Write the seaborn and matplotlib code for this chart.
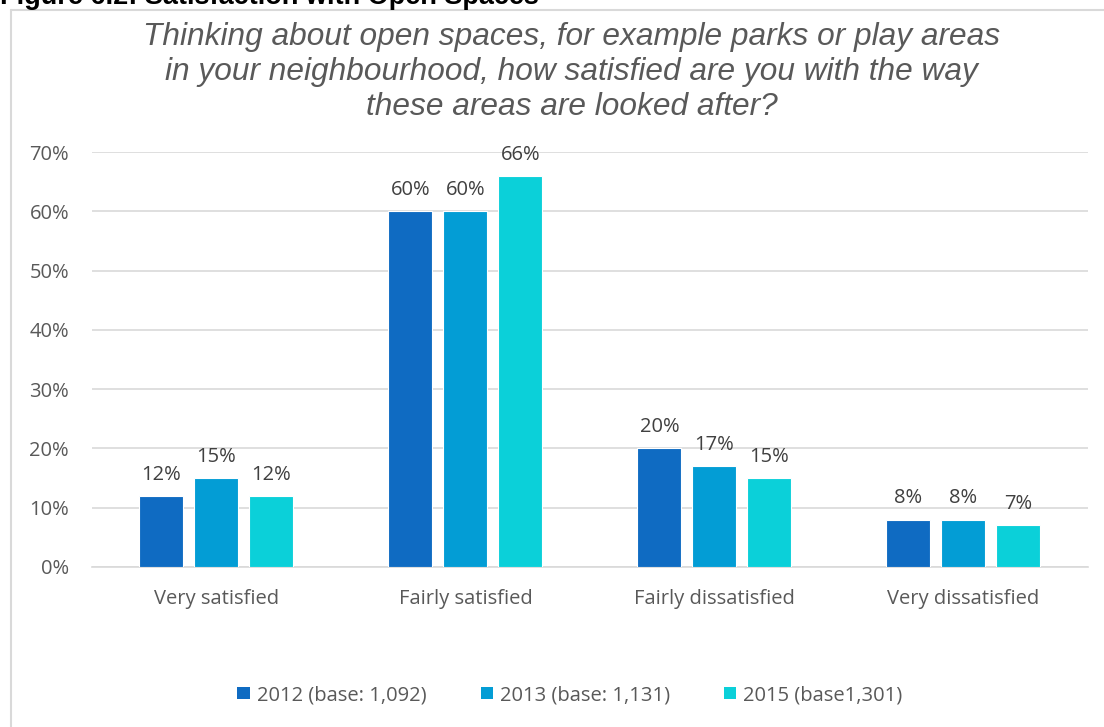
import matplotlib
matplotlib.use("Agg")
import matplotlib.pyplot as plt
from matplotlib.lines import Line2D
from matplotlib.patches import Patch
import pandas as pd
import seaborn as sns

categories = ["Very satisfied", "Fairly satisfied", "Fairly dissatisfied", "Very dissatisfied"]
series_names = ["2012 (base: 1,092)", "2013 (base: 1,131)", "2015 (base1,301)"]
values_2012 = [12, 60, 20, 8]
values_2013 = [15, 60, 17, 8]
values_2015 = [12, 66, 15, 7]
y_ticks = [0, 10, 20, 30, 40, 50, 60, 70]
colors = ["#0F6BC2", "#039DD5", "#0BD0D9"]

title = ("Thinking about open spaces, for example parks or play areas\n"
         "in your neighbourhood, how satisfied are you with the way\n"
         "these areas are looked after?")
header = "Figure 6.2: Satisfaction with Open Spaces"

rows = []
for name, vals in zip(series_names, [values_2012, values_2013, values_2015]):
    for cat, v in zip(categories, vals):
        rows.append({"category": cat, "series": name, "value": v})
df = pd.DataFrame(rows)

sns.set_theme(style="white")
plt.rcParams["font.family"] = ["Open Sans", "DejaVu Sans"]

fig = plt.figure(figsize=(11.04, 7.27), dpi=100)
ax = fig.add_axes([0.0833, 0.2201, 0.902, 0.5708])

sns.barplot(data=df, x="category", y="value", hue="series",
            order=categories, hue_order=series_names, palette=colors,
            saturation=1, width=0.663, gap=0.2, edgecolor="white", linewidth=0.8,
            legend=False, ax=ax, zorder=3)

text_color = "#595959"
fs = 14.5
for cont in ax.containers:
    ax.bar_label(cont, labels=[f"{v:.0f}%" for v in cont.datavalues],
                 padding=8, fontsize=fs, color="#404040")

ax.set_ylim(0, 70)
ax.set_yticks(y_ticks)
ax.set_yticklabels([f"{t}%" for t in y_ticks], fontsize=fs, color=text_color)
ax.tick_params(axis="y", length=0, pad=16.5)
ax.tick_params(axis="x", length=0, pad=16, labelsize=fs, labelcolor=text_color)
ax.set_xlim(-0.5, len(categories) - 0.5)
ax.yaxis.grid(True, color="#D9D9D9", linewidth=1.2, zorder=0)
ax.set_axisbelow(True)
for side in ["left", "right", "top"]:
    ax.spines[side].set_visible(False)
ax.spines["bottom"].set_color("#D9D9D9")
ax.spines["bottom"].set_linewidth(1.2)
ax.set_xlabel("")
ax.set_ylabel("")

fig.text(0.518, 1 - 72 / 727, title, ha="center", va="center", fontsize=22.8,
         style="italic", color=text_color, family="Liberation Sans",
         linespacing=1.2)

fig.text(0.0, 1 - 4 / 727, header, ha="left", va="baseline", fontsize=19.5,
         weight="bold", color="black", family="Liberation Sans")

# outer chart frame (top and left edges)
fig.add_artist(Line2D([11 / 1104, 1.0], [1 - 10 / 727, 1 - 10 / 727],
                      transform=fig.transFigure, color="#D9D9D9", linewidth=1.5))
fig.add_artist(Line2D([11 / 1104, 11 / 1104], [0.0, 1 - 10 / 727],
                      transform=fig.transFigure, color="#D9D9D9", linewidth=1.5))

handles = [Patch(facecolor=c, edgecolor="none") for c in colors]
fig.legend(handles, series_names, loc="center", bbox_to_anchor=(570 / 1104, 1 - 695 / 727),
           ncol=3, frameon=False, fontsize=fs, labelcolor=text_color,
           handlelength=0.6, handleheight=0.6, handletextpad=0.35,
           columnspacing=2.7)

fig.savefig("out.png", dpi=100)
